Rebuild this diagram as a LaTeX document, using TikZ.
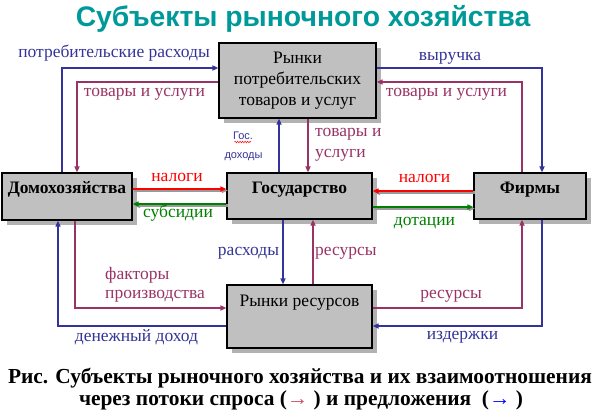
\documentclass[tikz,border=0pt]{standalone}
\usepackage{fontspec}
\setmainfont{Liberation Serif}
\newfontfamily\timesf{Liberation Serif}
\newfontfamily\arialf{Liberation Sans}
\usetikzlibrary{arrows.meta,shadows,decorations.pathmorphing}
\definecolor{cblue}{HTML}{333399}
\definecolor{cpurp}{HTML}{993366}
\definecolor{cred}{HTML}{FF0000}
\definecolor{cgreen}{HTML}{008000}
\definecolor{cteal}{HTML}{009999}
\definecolor{cbox}{HTML}{C0C0C0}
\definecolor{cshadow}{HTML}{B2B2B2}
\tikzset{
  boxnode/.style={draw=black, line width=1.2pt, fill=cbox, inner sep=0pt,
    drop shadow={shadow xshift=5pt, shadow yshift=-5pt, fill=cshadow, opacity=1},
    font=\timesf\fontsize{17.5}{21}\selectfont, align=center},
  flowtip/.style={-{Triangle[length=6pt,width=5pt]}},
  bflow/.style={flowtip, draw=cblue, line width=1.8pt},
  pflow/.style={flowtip, draw=cpurp, line width=1.8pt},
  rflow/.style={flowtip, draw=cred, line width=2.6pt},
  gflow/.style={flowtip, draw=cgreen, line width=2.6pt},
  fshadow/.style={flowtip, draw=black!40, line width=2.6pt},
  lbl/.style={inner sep=0pt, font=\timesf\fontsize{17.5}{19}\selectfont},
  blbl/.style={lbl, text=cblue},
  plbl/.style={lbl, text=cpurp},
  capnode/.style={inner sep=0pt, font=\timesf\bfseries\fontsize{21.4}{24}\selectfont},
}
\begin{document}
\begin{tikzpicture}[x=1pt,y=-1pt]
\useasboundingbox (0,0) rectangle (596,415);
% title
\node[inner sep=0pt, text=cteal, font=\arialf\bfseries\fontsize{28.3}{30}\selectfont] (title) at (303,19) {Субъекты рыночного хозяйства};
% boxes
\node[boxnode, minimum width=157pt, minimum height=75pt] (mkt) at (297.5,80.5) {Рынки\\потребительских\\товаров и услуг};
\node[boxnode, minimum width=130pt, minimum height=47pt, text height=11pt, text depth=18pt, font=\timesf\bfseries\fontsize{17.5}{21}\selectfont] (hh) at (67,196.5) {Домохозяйства};
\node[boxnode, minimum width=145pt, minimum height=46pt, text height=11pt, text depth=17pt, font=\timesf\bfseries\fontsize{17.5}{21}\selectfont] (gov) at (299.5,196) {Государство};
\node[boxnode, minimum width=112pt, minimum height=46pt, text height=11pt, text depth=17pt, font=\timesf\bfseries\fontsize{17.5}{21}\selectfont] (firm) at (530,196) {Фирмы};
\node[boxnode, minimum width=145pt, minimum height=63pt, text height=11pt, text depth=32pt] (res) at (299.5,316.5) {Рынки ресурсов};
% upper loop
\draw[bflow] (62,0 |- hh.north) -- (62,68) -- (mkt.west |- 0,68);
\draw[pflow] (mkt.west |- 0,82) -- (77,82) -- (77,0 |- hh.north);
\draw[bflow] (mkt.east |- 0,68) -- (542,68) -- (542,0 |- firm.north);
\draw[pflow] (522,0 |- firm.north) -- (522,82) -- (mkt.east |- 0,82);
\draw[bflow] (279,0 |- gov.north) -- (279,0 |- mkt.south);
\draw[pflow] (308,0 |- mkt.south) -- (308,0 |- gov.north);
% middle arrows
\draw[fshadow] ([shift={(1.5,1.5)}]hh.east |- 0,189) -- ([shift={(1.5,1.5)}]gov.west |- 0,189);
\draw[rflow] (hh.east |- 0,189) -- (gov.west |- 0,189);
\draw[fshadow] ([shift={(1.5,1.5)}]gov.west |- 0,204) -- ([shift={(1.5,1.5)}]hh.east |- 0,204);
\draw[gflow] (gov.west |- 0,204) -- (hh.east |- 0,204);
\draw[fshadow] ([shift={(1.5,1.5)}]firm.west |- 0,191) -- ([shift={(1.5,1.5)}]gov.east |- 0,191);
\draw[rflow] (firm.west |- 0,191) -- (gov.east |- 0,191);
\draw[fshadow] ([shift={(1.5,1.5)}]gov.east |- 0,207) -- ([shift={(1.5,1.5)}]firm.west |- 0,207);
\draw[gflow] (gov.east |- 0,207) -- (firm.west |- 0,207);
% lower loop
\draw[bflow] (283,0 |- gov.south) -- (283,0 |- res.north);
\draw[pflow] (313,0 |- res.north) -- (313,0 |- gov.south);
\draw[pflow] (75,0 |- hh.south) -- (75,308) -- (res.west |- 0,308);
\draw[bflow] (res.west |- 0,326) -- (58,326) -- (58,0 |- hh.south);
\draw[pflow] (res.east |- 0,308) -- (522,308) -- (522,0 |- firm.south);
\draw[bflow] (542,0 |- firm.south) -- (542,326) -- (res.east |- 0,326);
% labels
\node[blbl] (l1) at (114,53) {потребительские расходы};
\node[plbl] (l2) at (144.5,94) {товары и услуги};
\node[blbl] (l3) at (450,58) {выручка};
\node[plbl] (l4) at (446.5,94) {товары и услуги};
\node[inner sep=0pt, text=cblue, font=\arialf\fontsize{11}{13}\selectfont] (l5) at (243,136) {Гос.};
\draw[cred, line width=0.5pt, decorate, decoration={zigzag, amplitude=0.8pt, segment length=2.5pt}] (234.5,142) -- (251,142);
\node[inner sep=0pt, text=cblue, font=\arialf\fontsize{11}{13}\selectfont] (l6) at (243.5,157) {доходы};
\node[plbl, anchor=west] (l7) at (315,134) {товары и};
\node[plbl, anchor=west] (l8) at (315,155) {услуги};
\node[lbl, text=cred] (l9) at (177,177) {налоги};
\node[lbl, text=cgreen] (l10) at (178,213) {субсидии};
\node[lbl, text=cred] (l11) at (424.5,178) {налоги};
\node[lbl, text=cgreen] (l12) at (424.5,223) {дотации};
\node[blbl] (l13) at (248.5,253) {расходы};
\node[plbl, anchor=west] (l14) at (315,253) {ресурсы};
\node[plbl, anchor=west] (l15) at (105,275) {факторы};
\node[plbl, anchor=west] (l16) at (105,296) {производства};
\node[plbl] (l17) at (451,296) {ресурсы};
\node[blbl] (l18) at (136.5,337) {денежный доход};
\node[blbl] (l19) at (462.5,337) {издержки};
% caption
\node[capnode] (cap1) at (300,378) {Рис. Субъекты рыночного хозяйства и их взаимоотношения};
\node[capnode] (cap2) at (301,400) {через потоки спроса ({\mdseries\color{cpurp!60!red!80!white}→} ) и предложения~~({\mdseries\color{blue}→} )};
\end{tikzpicture}
\end{document}
